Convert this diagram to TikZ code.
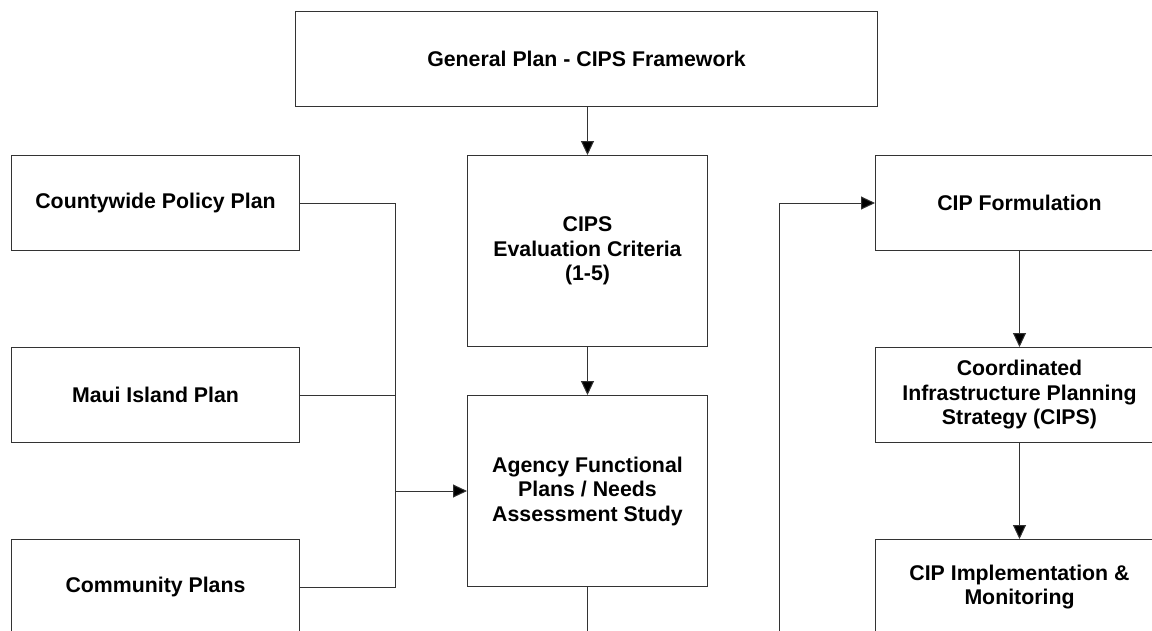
\documentclass[tikz,border=0pt]{standalone}
\usepackage{fontspec}
\setmainfont{Liberation Sans}
\usetikzlibrary{arrows.meta}
\begin{document}
\begin{tikzpicture}[x=1pt,y=-1pt,
  box/.style={draw=black!80, line width=1pt, fill=white, minimum width=288pt,
    minimum height=95pt, anchor=north west, align=center, inner sep=0pt,
    font=\fontsize{21.3}{24.5}\selectfont\bfseries},
  conn/.style={draw=black!80, line width=1pt},
  arr/.style={conn, -{Triangle[length=14pt,width=13pt,fill=black]}}]
\useasboundingbox (0,0) rectangle (1152,630);
\clip (0,0) rectangle (1152,630);
% top
\node[box, minimum width=582pt] (gp) at (295,11) {General Plan - CIPS Framework};
% left column
\node[box] (cw) at (11,155) {Countywide Policy Plan};
\node[box] (mi) at (11,347) {Maui Island Plan};
\node[box] (cp) at (11,539) {Community Plans};
% middle column
\node[box, minimum width=240pt, minimum height=191pt] (ev) at (467,155) {CIPS\\Evaluation Criteria\\(1-5)};
\node[box, minimum width=240pt, minimum height=191pt] (ag) at (467,395) {Agency Functional\\Plans / Needs\\Assessment Study};
% right column
\node[box] (cf) at (875,155) {CIP Formulation};
\node[box] (co) at (875,347) {Coordinated\\Infrastructure Planning\\Strategy (CIPS)};
\node[box] (im) at (875,539) {CIP Implementation \&\\Monitoring};
% helper coordinates
\coordinate (bx) at (395,0);
\coordinate (loop) at (779,690);
% connectors
\draw[arr] (gp.south -| ev.north) -- (ev.north);
\draw[arr] (ev.south) -- (ag.north);
\draw[conn] (cw.east) -- (cw.east -| bx) -- (cp.east -| bx) -- (cp.east);
\draw[conn] (mi.east) -- (mi.east -| bx);
\draw[arr] (ag.west -| bx) -- (ag.west);
\draw[arr] (ag.south) |- (loop) |- (cf.west);
\draw[arr] (cf.south) -- (co.north);
\draw[arr] (co.south) -- (im.north);
\end{tikzpicture}
\end{document}
